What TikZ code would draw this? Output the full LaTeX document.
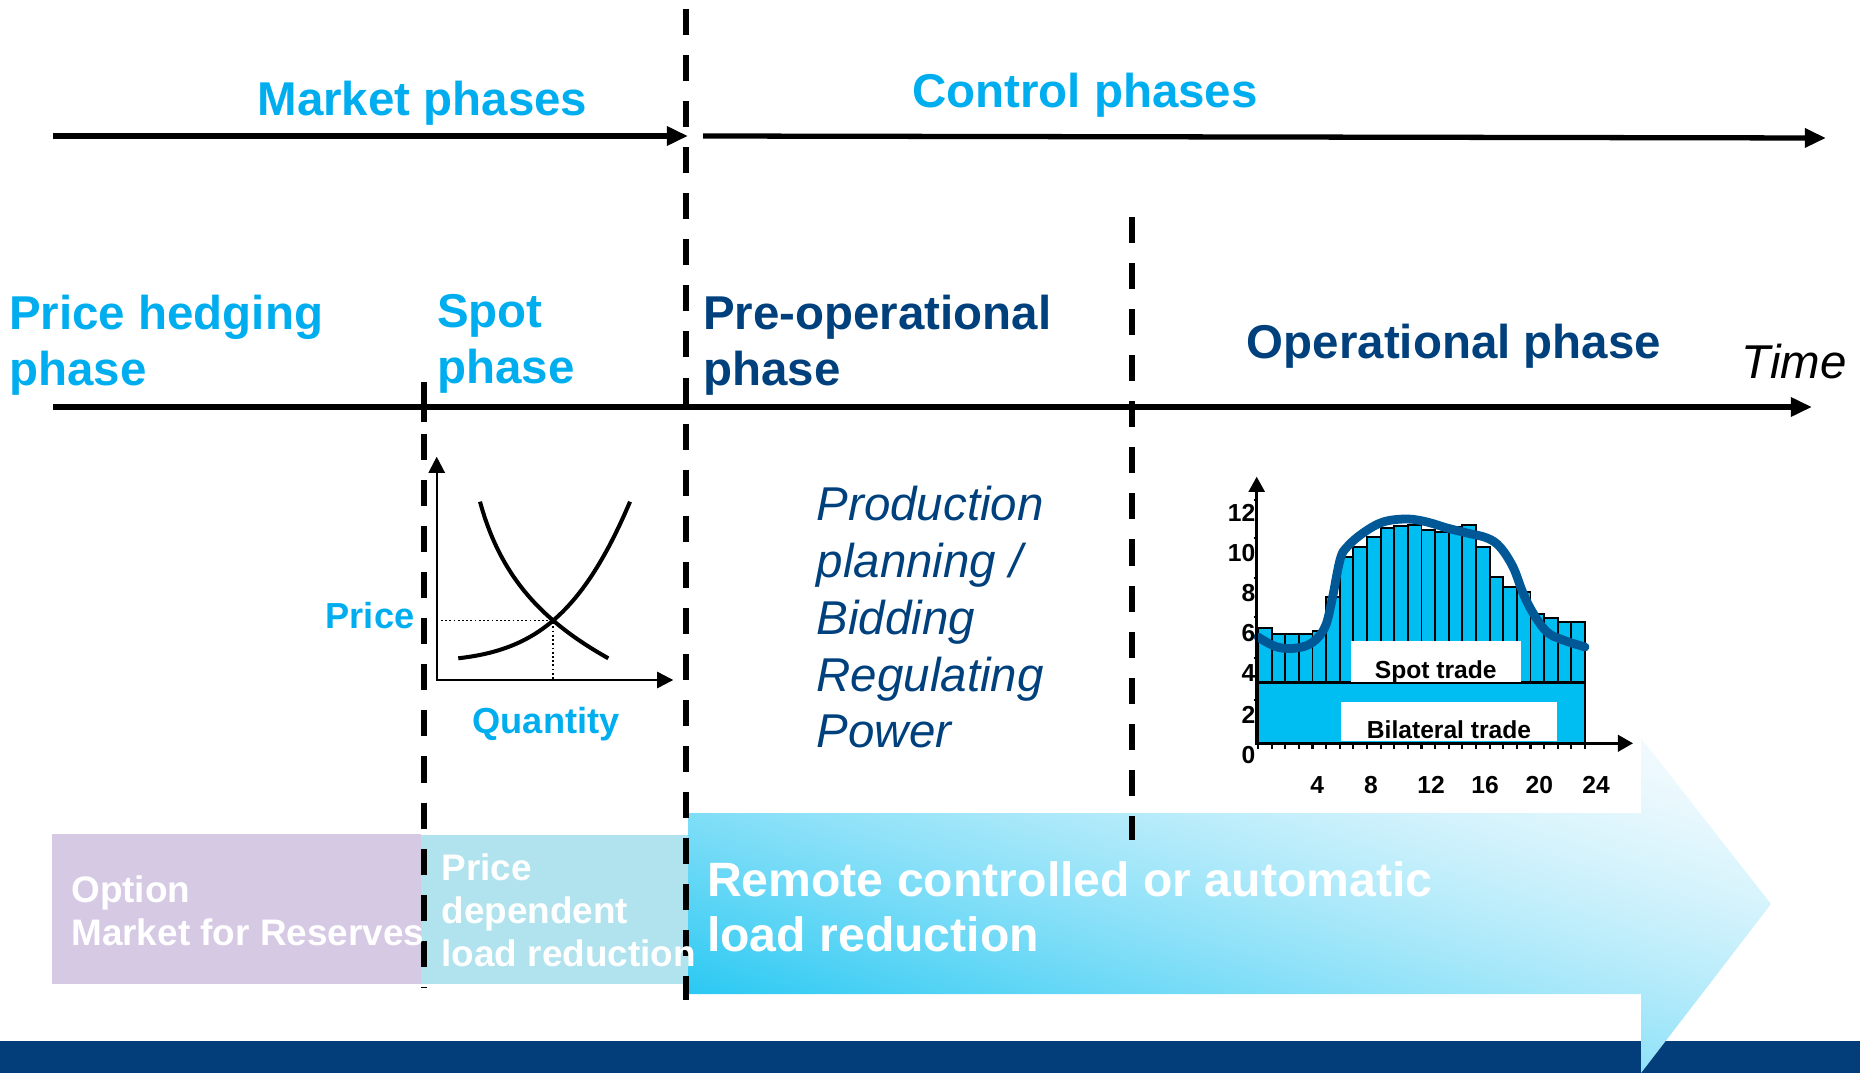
\documentclass[tikz,border=0pt]{standalone}
\usepackage{fontspec}
\setmainfont{Liberation Sans}
\usetikzlibrary{arrows.meta,intersections}

\definecolor{phasecyan}{RGB}{0,174,239}
\definecolor{phasenavy}{RGB}{0,65,125}
\definecolor{footnavy}{RGB}{3,61,122}
\definecolor{optlilac}{RGB}{213,201,228}
\definecolor{pricecyan}{RGB}{176,227,238}
\definecolor{barcyan}{RGB}{0,189,242}
\definecolor{curveblue}{RGB}{0,88,150}

% degrade de la grande fleche, du coin bas gauche au coin haut droit
\pgfdeclarefunctionalshading{loadarrowshade}{\pgfpoint{0bp}{0bp}}{\pgfpoint{100bp}{100bp}}{}{
  add 50 sub 100 div
  dup 0 lt {pop 0} if
  dup 1 gt {pop 1} if
  1 exch sub
  dup sqrt mul
  1 exch sub
  dup 0.9608 mul
  exch dup 0.2392 mul 0.745 add
  exch 0.0549 mul 0.941 add
}

\begin{document}
\begin{tikzpicture}[x=0.01cm,y=-0.01cm,
  every node/.style={inner sep=0pt},
  headfont/.style={font=\fontsize{13.5}{15.9}\selectfont\bfseries},
  boxfont/.style={font=\fontsize{10.5}{12.2}\selectfont\bfseries,text=white},
  chartfont/.style={font=\fontsize{7}{8}\selectfont\bfseries},
  phasesep/.style={line width=1.7pt,dash pattern=on 7.4pt off 5.7pt},
  timeline/.style={line width=1.5pt,-{Triangle[length=6pt,width=5.2pt]}},
  graphaxis/.style={line width=0.65pt,{Triangle[length=4.6pt,width=4.6pt]}-{Triangle[length=4.6pt,width=4.6pt]}},
  sdcurve/.style={line width=1.15pt},
  barcell/.style={fill=barcyan,draw=black,line width=0.55pt},
  loadcurve/.style={draw=curveblue,line width=2.5pt,line cap=round,line join=round}]

\useasboundingbox (0,0) rectangle (1860,1073);

% Bandeau du bas
\fill[footnavy] (0,1041) rectangle (1860,1073);

% Blocs de reduction de charge
\fill[optlilac] (52,834) rectangle (421,984);
\fill[pricecyan] (421,835) rectangle (688,984);
\shade[shading=loadarrowshade]
(688,813) -- (1641,813) -- (1641,738) -- (1771,904)
-- (1641,1073) -- (1641,994) -- (688,994) -- cycle;

% Fleches des phases
\draw[timeline] (53,136) -- (688,136);
\draw[timeline] (703,136) -- (1826,138);
\draw[timeline] (53,407) -- (1812,407);

% Separations
\draw[phasesep] (686,9) -- (686,1000);
\draw[line width=1.7pt] (424,382) -- (424,422);
\draw[phasesep] (424,434) -- (424,988);
\draw[phasesep] (1131.5,217) -- (1131.5,840);

% Titres
\node[headfont,text=phasecyan,anchor=base] (market) at (422.5,116) {Market phases};
\node[headfont,text=phasecyan,anchor=base] (control) at (1085,108) {Control phases};
\node[headfont,text=phasecyan,anchor=north west,align=left] (hedging) at (8.5,294) {Price hedging\\phase};
\node[headfont,text=phasecyan,anchor=north west,align=left] (spot) at (436.5,294) {Spot\\phase};
\node[headfont,text=phasenavy,anchor=north west,align=left] (preop) at (702.5,294) {Pre-operational\\phase};
\node[headfont,text=phasenavy,anchor=base] (operational) at (1454,359) {Operational phase};
\node[font=\fontsize{13.5}{16}\selectfont\itshape,anchor=base west] (time) at (1741,378) {Time};

% Offre et demande
\coordinate (sdorigin) at (436.7,680);
\draw[graphaxis] (436.7,456.7) |- (673.3,680);
\draw[sdcurve,name path=demand] (480,501.7) .. controls (500,575) and (540,620) .. (608.3,658.3);
\draw[sdcurve,name path=supply] (458.3,658.3) .. controls (530,650) and (580,620) .. (630,501.7);
\path[name intersections={of=demand and supply,by=eq}];
\draw[line width=0.45pt,dash pattern=on 0.5pt off 0.7pt] (sdorigin |- eq) -- (eq) -- (eq |- sdorigin);
\node[font=\fontsize{10.3}{12}\selectfont\bfseries,text=phasecyan,anchor=base east] (price) at (415,628) {Price};
\node[font=\fontsize{10.3}{12}\selectfont\bfseries,text=phasecyan,anchor=base] (quantity) at (546,733) {Quantity};

% Planification
\node[font=\fontsize{13.5}{16.2}\selectfont\itshape,text=phasenavy,anchor=north west,align=left] (planning) at (816,485)
{Production\\planning /\\Bidding\\Regulating\\Power};

% Courbe de charge
\foreach \top [count=\i from 0] in {628,634,634,634,631,597,557,547,537,528,526,525,530,532,527,525,547,577,587,592,614,618,622,622}
  \draw[barcell] ({1258+13.625*\i},743) rectangle ({1271.625+13.625*\i},\top);
\draw[barcell,line width=0.8pt] (1258,682.7) rectangle (1585,743);
\fill[white] (1351,641) rectangle (1520.7,681.7);
\fill[white] (1341,702.3) rectangle (1556.7,741);
\node[chartfont,anchor=base] (spottrade) at (1435.7,678.3) {Spot trade};
\node[chartfont,anchor=base] (bilateral) at (1449,738.3) {Bilateral trade};
\draw[loadcurve] plot[smooth,tension=0.6] coordinates {(1258,637) (1277,647) (1297,648) (1313,642) (1325,627) (1332,600) (1340,560) (1347,547) (1363,533) (1383,522) (1407,519) (1427,522) (1447,528) (1467,533) (1487,538) (1500,547) (1513,567) (1523,593) (1533,613) (1547,632) (1563,640) (1585,647)};
\draw[line width=0.8pt,{Triangle[length=4.3pt,width=4.5pt]}-{Triangle[length=4.3pt,width=4.7pt]}] (1256.7,476.7) |- (1633,743.3);
\foreach \i in {0,...,24}
  \draw[line width=0.6pt] ({1258+13.625*\i},743.3) -- ++(0,6);
\foreach \yt in {500,538,578,617,658,700}
  \draw[line width=0.6pt] (1253.7,\yt) -- (1256.7,\yt);
\foreach \lab/\yb in {12/521.7,10/561.7,8/601.7,6/641.7,4/681.7,2/723.3,0/763.3}
  \node[chartfont,anchor=base east] at (1256,\yb) {\lab};
\foreach \lab/\xc in {4/1317.3,8/1371,12/1431,16/1485,20/1539.3,24/1596}
  \node[chartfont,anchor=base] at (\xc,793.3) {\lab};

% Textes des blocs
\node[boxfont,anchor=north west,align=left] (option) at (70.6,875) {Option\\Market for Reserves};
\node[boxfont,anchor=north west,align=left] (pricedep) at (440.8,853.5) {Price\\dependent\\load reduction};
\node[font=\fontsize{13.7}{15.6}\selectfont\bfseries,text=white,anchor=north west,align=left] (remote) at (706.4,860.6)
{Remote controlled or automatic\\load reduction};

\end{tikzpicture}
\end{document}
